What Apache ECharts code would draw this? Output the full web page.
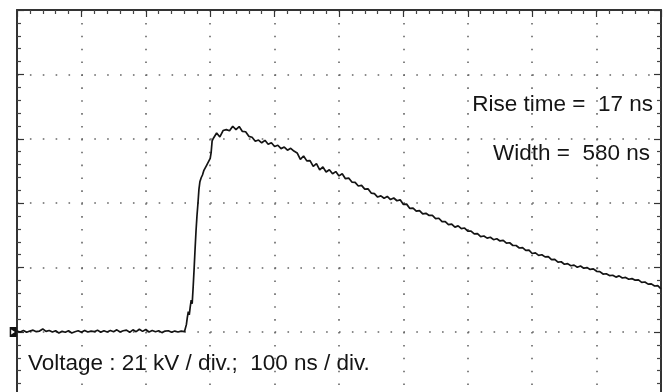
<!DOCTYPE html>
<html>
<head>
<meta charset="utf-8">
<script src="https://cdn.jsdelivr.net/npm/echarts@6/dist/echarts.min.js"></script>
<style>
  html, body { margin: 0; padding: 0; background: #fff; }
  #chart { width: 672px; height: 392px; }
</style>
</head>
<body>
<div id="chart"></div>
<script>
// Scope settings
const voltsPerDivKv = 21;
const timePerDivNs = 100;
const riseTimeNs = 17;
const pulseWidthNs = 580;
const groundLevelKv = 0;

// Captured trace: [time (ns), voltage (kV)]
const baselineTrace = [
  [0, 0.3], [5, 0.0], [10, 0.5], [15, -0.1], [20, 0.3], [25, 0.6], [30, 0.1], [35, 0.3],
  [40, 1.0], [45, 0.2], [50, 0.5], [55, 0.0], [60, 0.4], [65, -0.3], [70, 0.2], [75, -0.1],
  [80, 0.4], [85, -0.3], [90, 0.1], [95, 0.4], [100, -0.1], [105, 0.5], [110, 0.0], [115, 0.3],
  [120, 0.1], [125, 0.6], [130, -0.1], [135, 0.4], [140, 0.0], [145, 0.5], [150, 0.1], [155, 0.7],
  [160, 0.0], [165, 0.4], [170, 0.6], [175, -0.1], [180, 0.7], [185, 0.1], [190, 0.9], [195, 0.2],
  [200, 0.8], [205, 0.0], [210, 0.5], [215, 0.1], [220, 0.4], [225, -0.2], [230, 0.3], [235, 0.4],
  [240, -0.1], [245, 0.3], [250, 0.0], [255, 0.3], [260, 0.1]
];

const riseTrace = [
  [262, 0.4], [263, 2.4], [264.5, 4.8], [266, 6.6], [267.5, 5.6], [269, 8.2], [270.5, 10.4],
  [272, 9.2], [273.5, 14.5], [275, 20.5], [276.5, 27.0], [278, 33.0], [279.5, 38.0], [281, 42.0],
  [282.5, 46.5], [284, 49.0], [286, 50.3], [288, 51.2], [290, 52.6], [292, 53.1], [294, 54.2],
  [296, 55.0], [298, 55.6], [300, 56.6], [301.5, 58.6], [303, 62.3]
];

const decayTrace = [
  [305, 63.2], [310, 64.9], [315, 63.6], [320, 65.7], [325, 66.0], [330, 65.6], [335, 67.1], [340, 66.0],
  [345, 67.0], [350, 65.4], [355, 65.3], [360, 63.8], [365, 63.5], [370, 62.2], [375, 62.6], [380, 61.7],
  [385, 62.5], [390, 61.2], [395, 61.7], [400, 60.5], [405, 60.9], [410, 59.8], [415, 60.3], [420, 59.3],
  [425, 59.9], [430, 59.0], [435, 58.4], [440, 56.3], [445, 57.4], [450, 55.8], [455, 55.9], [460, 54.0],
  [465, 54.9], [470, 52.9], [475, 53.8], [480, 52.2], [485, 52.9], [490, 51.6], [495, 52.3], [500, 50.9],
  [505, 51.6], [510, 50.0], [515, 50.2], [520, 48.9], [525, 48.8], [530, 47.6], [535, 47.8], [540, 46.6],
  [545, 46.7], [550, 45.3], [555, 45.1], [560, 44.0], [565, 44.4], [570, 43.6], [575, 44.2], [580, 43.2],
  [585, 43.7], [590, 42.8], [595, 43.1], [600, 41.6], [605, 41.7], [610, 40.3], [615, 40.4], [620, 39.4],
  [625, 39.6], [630, 38.5], [635, 38.7], [640, 38.0], [645, 38.0], [650, 37.0], [655, 37.1], [660, 36.0],
  [665, 36.0], [670, 35.0], [675, 35.2], [680, 34.2], [685, 34.6], [690, 33.7], [695, 33.9], [700, 32.9],
  [705, 32.9], [710, 32.0], [715, 32.1], [720, 31.1], [725, 31.3], [730, 30.6], [735, 30.9], [740, 30.1],
  [745, 30.4], [750, 29.7], [755, 29.9], [760, 29.0], [765, 29.1], [770, 28.2], [775, 28.2], [780, 27.4],
  [785, 27.5], [790, 26.6], [795, 26.7], [800, 25.6], [805, 25.8], [810, 25.0], [815, 25.2], [820, 24.5],
  [825, 24.6], [830, 23.6], [835, 23.7], [840, 22.8], [845, 22.9], [850, 22.1], [855, 22.3], [860, 21.6],
  [865, 21.8], [870, 21.1], [875, 21.5], [880, 20.8], [885, 21.0], [890, 20.4], [895, 20.6], [900, 19.8],
  [905, 19.7], [910, 18.9], [915, 19.0], [920, 18.4], [925, 18.5], [930, 17.9], [935, 18.3], [940, 17.6],
  [945, 17.8], [950, 17.2], [955, 17.4], [960, 16.9], [965, 17.0], [970, 16.2], [975, 16.3], [980, 15.6],
  [985, 15.7], [990, 15.0], [995, 15.1], [1000, 14.1]
];

// Screen: 10 horizontal divisions, 8 vertical divisions (ground 3 divisions above the bottom)
const hDivs = 10;
const divsAboveGround = 5;
const divsBelowGround = 3;
const divPx = 64.4;

const frameColor = '#333';
const gridDot = {
  color: '#666',
  width: 1.6,
  type: [1.6, divPx / 5 - 1.6]
};
const textFont = '22.5px "Liberation Sans", Arial, sans-serif';
const textColor = '#151515';

const chart = echarts.init(document.getElementById('chart'), null, { renderer: 'canvas' });

const frameAxis = (position) => ({
  axisLine: { show: true, onZero: false, lineStyle: { color: frameColor, width: 2 } },
  axisTick: { show: true, inside: true, length: 7, lineStyle: { color: '#333', width: 1.2 } },
  minorTick: { show: true, splitNumber: 5, length: 4, lineStyle: { color: '#444', width: 1.2 } },
  axisLabel: { show: false },
  position
});

chart.setOption({
  animation: false,
  backgroundColor: '#ffffff',
  grid: {
    left: 17,
    top: 10,
    width: hDivs * divPx,
    height: (divsAboveGround + divsBelowGround) * divPx,
    outerBoundsMode: 'none',
    show: false
  },
  xAxis: [{
    type: 'value',
    min: 0,
    max: hDivs * timePerDivNs,
    interval: timePerDivNs,
    ...frameAxis('top'),
    splitLine: { show: true, lineStyle: gridDot }
  }],
  yAxis: [{
    type: 'value',
    min: -divsBelowGround * voltsPerDivKv,
    max: divsAboveGround * voltsPerDivKv,
    interval: voltsPerDivKv,
    ...frameAxis('left'),
    splitLine: { show: true, lineStyle: gridDot }
  }, {
    type: 'value',
    min: -divsBelowGround * voltsPerDivKv,
    max: divsAboveGround * voltsPerDivKv,
    interval: voltsPerDivKv,
    ...frameAxis('right'),
    splitLine: { show: false }
  }],
  series: [{
    type: 'line',
    xAxisIndex: 0,
    yAxisIndex: 0,
    data: baselineTrace.concat(riseTrace, decayTrace),
    showSymbol: false,
    symbol: 'none',
    lineStyle: { color: '#141414', width: 1.7 },
    silent: true,
    markPoint: {
      silent: true,
      symbol: 'path://M0,0L7,0L7,10L0,10Z M1.5,2.5L1.5,7.5L5.2,5Z',
      symbolSize: [7, 10],
      symbolOffset: [-3.8, 0],
      itemStyle: { color: '#111' },
      label: { show: false },
      data: [{ coord: [0, groundLevelKv] }]
    }
  }],
  graphic: [{
    type: 'text',
    x: 653,
    y: 104.5,
    silent: true,
    style: {
      text: 'Rise time =  ' + riseTimeNs + ' ns',
      font: textFont,
      fill: textColor,
      align: 'right',
      verticalAlign: 'middle'
    }
  }, {
    type: 'text',
    x: 650,
    y: 154,
    silent: true,
    style: {
      text: 'Width =  ' + pulseWidthNs + ' ns',
      font: textFont,
      fill: textColor,
      align: 'right',
      verticalAlign: 'middle'
    }
  }, {
    type: 'text',
    x: 28,
    y: 364,
    silent: true,
    style: {
      text: 'Voltage : ' + voltsPerDivKv + ' kV / div.;  ' + timePerDivNs + ' ns / div.',
      font: textFont,
      fill: textColor,
      align: 'left',
      verticalAlign: 'middle'
    }
  }]
});
</script>
</body>
</html>
